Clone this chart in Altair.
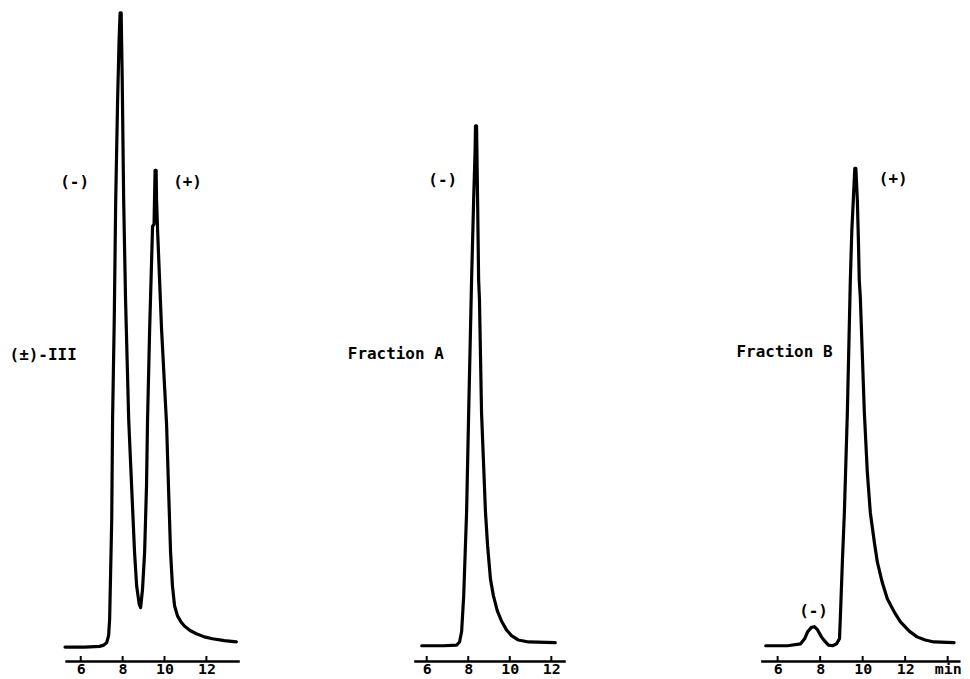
import altair as alt
import pandas as pd

# ---- data (time in min, detector signal in % of full scale) ----
# Panel 1: (±)-III racemate
p1_time = [5.25, 6.19, 6.90, 7.10, 7.24, 7.33, 7.38, 7.43, 7.48, 7.52, 7.60, 7.67, 7.76, 7.83,
           7.88, 7.93, 7.98, 8.05, 8.14, 8.29, 8.43, 8.57, 8.67, 8.79, 8.86, 8.95, 9.05, 9.14,
           9.19, 9.29, 9.43, 9.50, 9.55, 9.60, 9.62, 9.67, 9.86, 10.10, 10.19, 10.29, 10.38,
           10.48, 10.62, 10.78, 10.95, 11.22, 11.52, 11.90, 12.29, 12.86, 13.43]
p1_signal = [-0.5, -0.5, -0.4, -0.2, 0.2, 1.3, 3.9, 11.8, 19.6, 35.3, 51.0, 69.9, 85.6, 95.0,
             99.4, 99.4, 89.0, 69.9, 54.2, 35.3, 24.8, 14.4, 9.1, 6.3, 5.7, 8.6, 14.4, 24.8,
             35.3, 49.5, 65.8, 66.1, 74.6, 74.6, 69.9, 65.1, 49.5, 34.5, 24.8, 14.4, 9.1,
             6.0, 4.4, 3.5, 2.8, 2.1, 1.6, 1.1, 0.8, 0.5, 0.3]

# Panel 2: Fraction A
p2_time = [5.76, 6.82, 7.44, 7.58, 7.68, 7.78, 7.92, 8.02, 8.16, 8.26, 8.33, 8.35, 8.40, 8.45,
           8.50, 8.54, 8.64, 8.83, 8.93, 9.07, 9.21, 9.40, 9.60, 9.84, 10.08, 10.42, 10.90, 12.19]
p2_signal = [-0.3, -0.3, -0.2, 0.3, 1.9, 7.5, 20.7, 36.4, 57.3, 69.9, 77.7, 81.6, 81.6, 69.9,
             57.3, 54.2, 36.4, 20.7, 15.5, 10.2, 7.6, 5.2, 3.6, 2.2, 1.3, 0.6, 0.3, 0.2]

# Panel 3: Fraction B
p3_time = [5.44, 6.47, 7.08, 7.27, 7.41, 7.59, 7.73, 7.88, 8.06, 8.20, 8.39, 8.58, 8.77, 8.91,
           8.96, 9.05, 9.14, 9.28, 9.42, 9.49, 9.56, 9.63, 9.68, 9.75, 9.80, 9.84, 9.89, 10.08,
           10.22, 10.36, 10.55, 10.69, 10.92, 11.16, 11.49, 11.77, 12.19, 12.56, 12.94, 13.36, 14.30]
p3_signal = [-0.3, -0.3, 0.0, 0.8, 1.9, 2.6, 2.7, 2.2, 1.1, 0.5, -0.2, -0.3, 0.0, 0.8,
             5.0, 13.3, 20.7, 36.4, 57.3, 65.1, 69.9, 74.9, 74.9, 69.9, 63.6, 57.3, 54.6, 36.4,
             27.0, 20.7, 16.0, 12.9, 9.7, 7.1, 5.0, 3.5, 2.0, 1.1, 0.6, 0.3, 0.2]

# tick values (minutes)
ticks_12 = [6, 8, 10, 12]
ticks_14 = [6, 8, 10, 12, 14]

# annotations: (text, time, signal)
p1_notes_center = [("(-)", 5.71, 72.7), ("(+)", 11.10, 72.7)]
p1_notes_right = [("(±)-III", 5.81, 45.5)]
p2_notes_center = [("(-)", 6.77, 73.0)]
p2_notes_right = [("Fraction A", 6.82, 45.7)]
p3_notes_center = [("(+)", 11.44, 73.3), ("(-)", 7.69, 5.2)]
p3_notes_right = [("Fraction B", 8.58, 46.0)]

# ---- layout ----
Y_DOMAIN = [-2.7, 100]
H = 654
W = 255
SPACING = 95
FONT = "DejaVu Sans Mono"


def panel(times, signals, x_domain, x_range, ticks, label_expr, notes_center, notes_right):
    df = pd.DataFrame({"t": times, "s": signals})
    x_scale = alt.Scale(domain=x_domain, range=x_range, nice=False, zero=False)
    y_scale = alt.Scale(domain=Y_DOMAIN, nice=False, zero=False)
    axis_kw = dict(values=ticks, ticks=False, domain=True, domainColor="black",
                   domainWidth=2.5, grid=False, title=None, labelFont=FONT,
                   labelFontSize=15, labelFontWeight="bold", labelColor="black",
                   labelPadding=1)
    if label_expr:
        axis_kw["labelExpr"] = label_expr
    x_axis = alt.Axis(**axis_kw)
    X = alt.X("t:Q", scale=x_scale, axis=x_axis)
    Y = alt.Y("s:Q", scale=y_scale, axis=None)

    line = alt.Chart(df).mark_line(color="black", strokeWidth=3.2, strokeJoin="round",
                                   strokeCap="round").encode(x=X, y=Y)

    tick_df = pd.DataFrame({"t": ticks})
    tick_marks = alt.Chart(tick_df).mark_rule(color="black", strokeWidth=2).encode(
        x=X, y=alt.value(H), y2=alt.value(H - 5))

    layers = [line, tick_marks]
    if notes_center:
        cdf = pd.DataFrame(notes_center, columns=["label", "t", "s"])
        layers.append(alt.Chart(cdf).mark_text(font=FONT, fontSize=16, fontWeight="bold",
                                               align="center", baseline="middle",
                                               color="black").encode(x=X, y=Y, text="label:N"))
    if notes_right:
        rdf = pd.DataFrame(notes_right, columns=["label", "t", "s"])
        layers.append(alt.Chart(rdf).mark_text(font=FONT, fontSize=16, fontWeight="bold",
                                               align="right", baseline="middle",
                                               color="black").encode(x=X, y=Y, text="label:N"))
    return alt.layer(*layers).properties(width=W, height=H)


p1 = panel(p1_time, p1_signal, [5.24, 13.57], [57, 232], ticks_12, None,
           p1_notes_center, p1_notes_right)
p2 = panel(p2_time, p2_signal, [5.375, 12.67], [57, 209], ticks_12, None,
           p2_notes_center, p2_notes_right)
p3 = panel(p3_time, p3_signal, [5.20, 14.58], [55, 255], ticks_14,
           "datum.value == 14 ? 'min' : datum.label", p3_notes_center, p3_notes_right)

chart = (
    alt.hconcat(p1, p2, p3, spacing=SPACING, bounds="flush")
    .properties(padding={"left": 0, "top": 0, "right": 0, "bottom": 0},
                background="white")
    .configure_view(stroke=None, strokeWidth=0)
)

chart.save("out.html", embed_options={"renderer": "svg", "actions": False})
